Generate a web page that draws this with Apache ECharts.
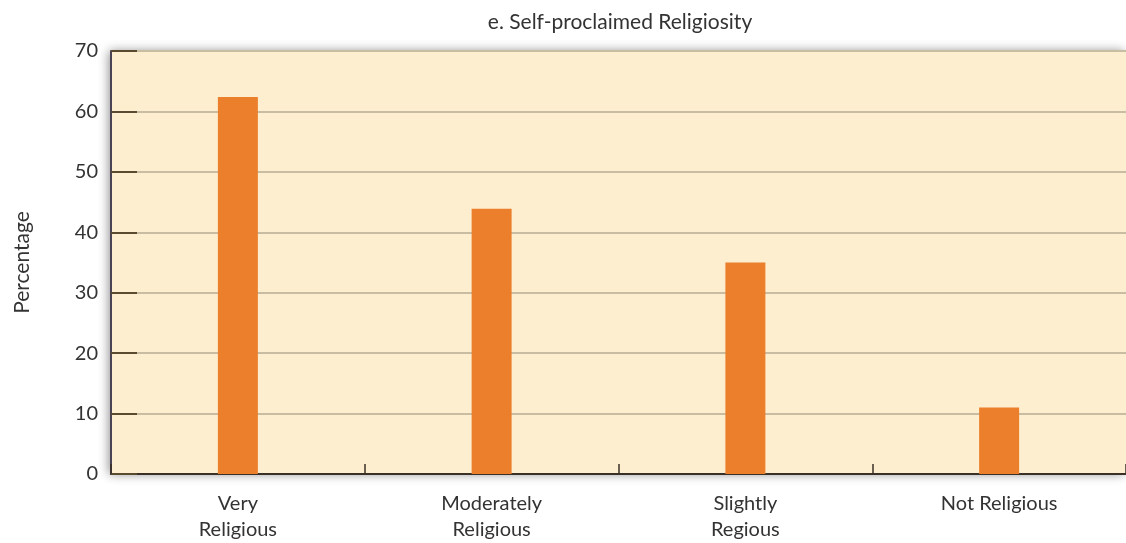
<!DOCTYPE html>
<html>
<head>
<meta charset="utf-8">
<script src="https://cdn.jsdelivr.net/npm/echarts@6/dist/echarts.min.js"></script>
<style>
html,body{margin:0;padding:0;background:#fff;}
#chart{width:1126px;height:543px;}
</style>
</head>
<body>
<div id="chart"></div>
<script>
var titleText = 'e. Self-proclaimed Religiosity';
var yAxisName = 'Percentage';
var categories = ['Very\nReligious', 'Moderately\nReligious', 'Slightly\nRegious', 'Not Religious'];
var values = [62.4, 43.9, 35.0, 11.0];
var yTicks = [0, 10, 20, 30, 40, 50, 60, 70];

var FONT = 'Lato';
var chart = echarts.init(document.getElementById('chart'));
chart.setOption({
  animation: false,
  backgroundColor: '#ffffff',
  title: {
    text: titleText,
    left: 615, top: 7, textAlign: 'center',
    textStyle: {fontFamily: FONT, fontSize: 21, fontWeight: 'normal', color: '#333'}
  },
  grid: {
    left: 111, top: 51, right: -9, bottom: 68,
    show: true, backgroundColor: '#fdeecf', borderWidth: 0,
    shadowColor: 'rgba(0,0,0,0.45)', shadowBlur: 10, shadowOffsetX: -2, shadowOffsetY: 0
  },
  xAxis: {
    type: 'category',
    data: categories,
    axisLine: {show: true, lineStyle: {color: '#3a3027', width: 2}},
    axisTick: {show: true, inside: true, length: 10, lineStyle: {color: '#3a3027', width: 1.5}},
    axisLabel: {fontFamily: FONT, fontSize: 20, color: '#333', margin: 17, lineHeight: 26},
    splitLine: {show: false}
  },
  yAxis: {
    type: 'value',
    min: 0, max: 70, interval: 10,
    name: yAxisName,
    nameLocation: 'middle', nameGap: 78, nameRotate: 90,
    nameTextStyle: {fontFamily: FONT, fontSize: 21, color: '#333'},
    axisLine: {show: true, lineStyle: {color: '#4a4356', width: 2}},
    axisTick: {show: true, inside: true, length: 26, lineStyle: {color: '#5a4a30', width: 2}},
    axisLabel: {fontFamily: FONT, fontSize: 20, color: '#333', margin: 13,
      formatter: function (v) { return yTicks.indexOf(v) >= 0 ? String(v) : ''; }},
    splitLine: {show: true, lineStyle: {color: '#c8bca3', width: 2}}
  },
  series: [{
    type: 'bar',
    data: values,
    barWidth: 40,
    itemStyle: {color: '#ec7f2c'}
  }]
});
</script>
</body>
</html>
